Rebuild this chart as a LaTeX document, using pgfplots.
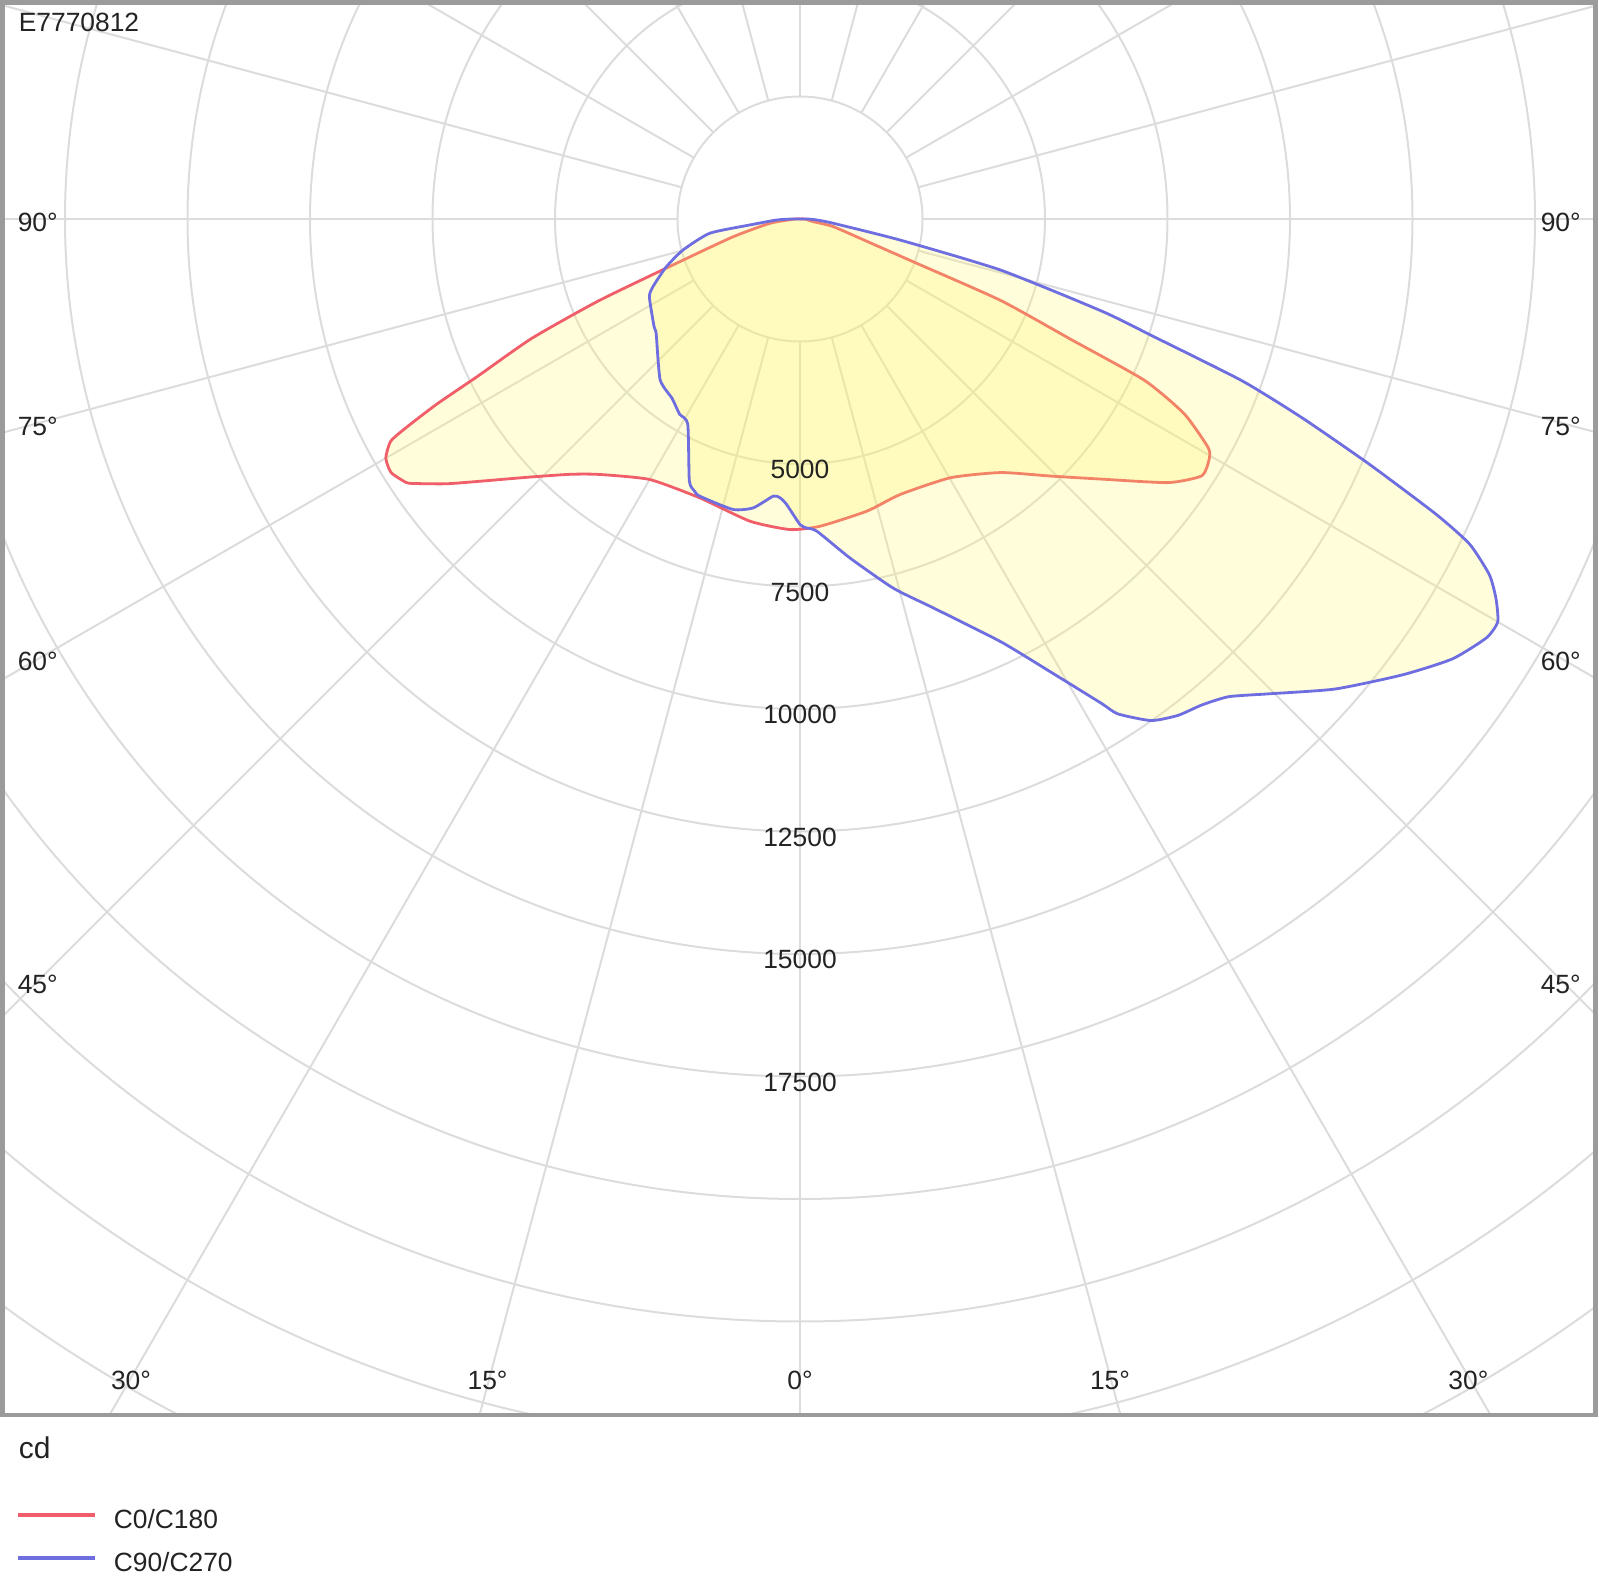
\documentclass[border=0pt]{standalone}
\usepackage{pgfplots}
\usepackage{pgfplotstable}
\pgfplotsset{compat=1.18}
\usepackage{fontspec}
\setmainfont{Liberation Sans}
\definecolor{gridc}{RGB}{220,220,220}
\definecolor{redc}{RGB}{240,95,105}
\definecolor{bluec}{RGB}{110,110,225}
\definecolor{fillc}{RGB}{255,246,100}
\definecolor{framec}{RGB}{155,155,155}
\definecolor{txt}{RGB}{35,35,35}

% C0/C180 : g = signed gamma (negative = left half), I = cd
\pgfplotstableread{
g I
-180 0
-90 100
-81.8 621
-75.1 1414
-70.6 2535
-67.9 4422
-66.0 6000
-64.0 7313
-63.0 8312
-62.1 9090
-61.5 9505
-60.0 9760
-58.2 9820
-56.2 9669
-55.4 9509
-53.1 9000
-50.0 8305
-46.4 7640
-42.0 7012
-38.2 6634
-30.0 6139
-19.8 6048
-9.4 6252
-1.85 6342
3.7 6285
12.9 6117
20.0 5983
30.2 6110
38.4 6604
44.3 7332
49.2 8125
54.4 9243
57.4 9732
59.4 9693
60.7 9560
63.1 8797
64.9 7764
66.0 6091
67.9 4422
69.2 2558
70.9 1627
77.0 700
78.5 278
90 100
180 0
}\redtab

% C90/C270
\pgfplotstableread{
g I
-180 0
-90 150
-87.5 478
-83.2 1032
-81.0 1867
-75.1 2474
-70.3 2901
-65.2 3311
-62.6 3462
-53.6 3701
-51.4 3756
-41.0 4350
-35.4 4500
-31.7 4680
-28.7 4771
-22.9 5804
-21.2 5956
-19.9 6016
-13.0 6084
-9.2 5973
-5.5 5682
-4.1 5705
-2.7 5832
0 6236
1.2 6306
3.1 6382
8.4 6996
14.2 7774
19.0 8402
25.4 9551
29.0 10580
31.9 11646
32.7 12002
35.0 12496
37.3 12735
39.6 12871
41.9 13099
44.6 13612
48.7 14535
52.9 15422
56.0 16057
58.6 16411
60.0 16442
61.4 16178
62.7 15834
64.1 15192
65.1 14310
66.7 12646
68.4 11018
69.9 9601
71.6 7612
73.0 6458
75.7 4230
78.1 2094
82.6 688
86.6 342
90 150
180 0
}\bluetab

\begin{document}
\begin{tikzpicture}
\useasboundingbox (0pt,0pt) rectangle (399.75pt,-395.5pt);
% polar grid
\begin{scope}
\clip (0.625pt,-0.625pt) rectangle (398.875pt,-353.75pt);
\foreach \k in {1,...,12} {
  \draw[gridc, line width=0.5pt] (200pt,-54.75pt) circle[radius=\k*30.625pt];
}
\foreach \a in {0,15,...,345} {
  \draw[gridc, line width=0.5pt] ([shift={(200pt,-54.75pt)}]\a:30.625pt) -- ([shift={(200pt,-54.75pt)}]\a:375pt);
}
\end{scope}

\begin{axis}[
  at={(0.625pt,-0.625pt)}, anchor=north west,
  width=398.25pt, height=353.125pt, scale only axis,
  xmin=-16276, xmax=16235, ymin=-24408, ymax=4418,
  xtick=\empty, ytick=\empty,
  axis line style={framec, line width=1.2pt},
  data cs=polar,
]
\addplot[draw=redc, line width=0.7pt, smooth, tension=0.35, fill=fillc, fill opacity=0.24]
  table[x expr=\thisrow{g}-90, y=I] {\redtab};
\addplot[draw=bluec, line width=0.7pt, smooth, tension=0.35, fill=fillc, fill opacity=0.24]
  table[x expr=\thisrow{g}-90, y=I] {\bluetab};
\end{axis}

\begin{scope}[every node/.style={font=\fontsize{6.6}{8}\selectfont, text=txt, inner sep=0pt}]
\node[anchor=west] at (4.5pt,-5.5pt) {E7770812};
% radial values
\node at (200pt,-117.4pt) {5000};
\node at (200pt,-148.0pt) {7500};
\node at (200pt,-178.65pt) {10000};
\node at (200pt,-209.25pt) {12500};
\node at (200pt,-239.9pt) {15000};
\node at (200pt,-270.5pt) {17500};
% angle labels, left
\node[anchor=west] at (4.25pt,-55.5pt) {90°};
\node[anchor=west] at (4.25pt,-106.5pt) {75°};
\node[anchor=west] at (4.25pt,-165.25pt) {60°};
\node[anchor=west] at (4.25pt,-246pt) {45°};
% angle labels, right
\node[anchor=west] at (385pt,-55.5pt) {90°};
\node[anchor=west] at (385pt,-106.5pt) {75°};
\node[anchor=west] at (385pt,-165.25pt) {60°};
\node[anchor=west] at (385pt,-246pt) {45°};
% bottom
\node at (32.75pt,-345pt) {30°};
\node at (121.9pt,-345pt) {15°};
\node at (200pt,-345pt) {0°};
\node at (277.5pt,-345pt) {15°};
\node at (367.1pt,-345pt) {30°};
% unit and legend
\node[anchor=west, font=\fontsize{7.5}{9}\selectfont] at (4.5pt,-362pt) {cd};
\draw[redc, line width=1pt] (4.5pt,-378.75pt) -- (23.75pt,-378.75pt);
\node[anchor=west] at (28.25pt,-379.75pt) {C0/C180};
\draw[bluec, line width=1pt] (4.5pt,-389.5pt) -- (23.75pt,-389.5pt);
\node[anchor=west] at (28.25pt,-390.5pt) {C90/C270};
\end{scope}
\end{tikzpicture}
\end{document}
